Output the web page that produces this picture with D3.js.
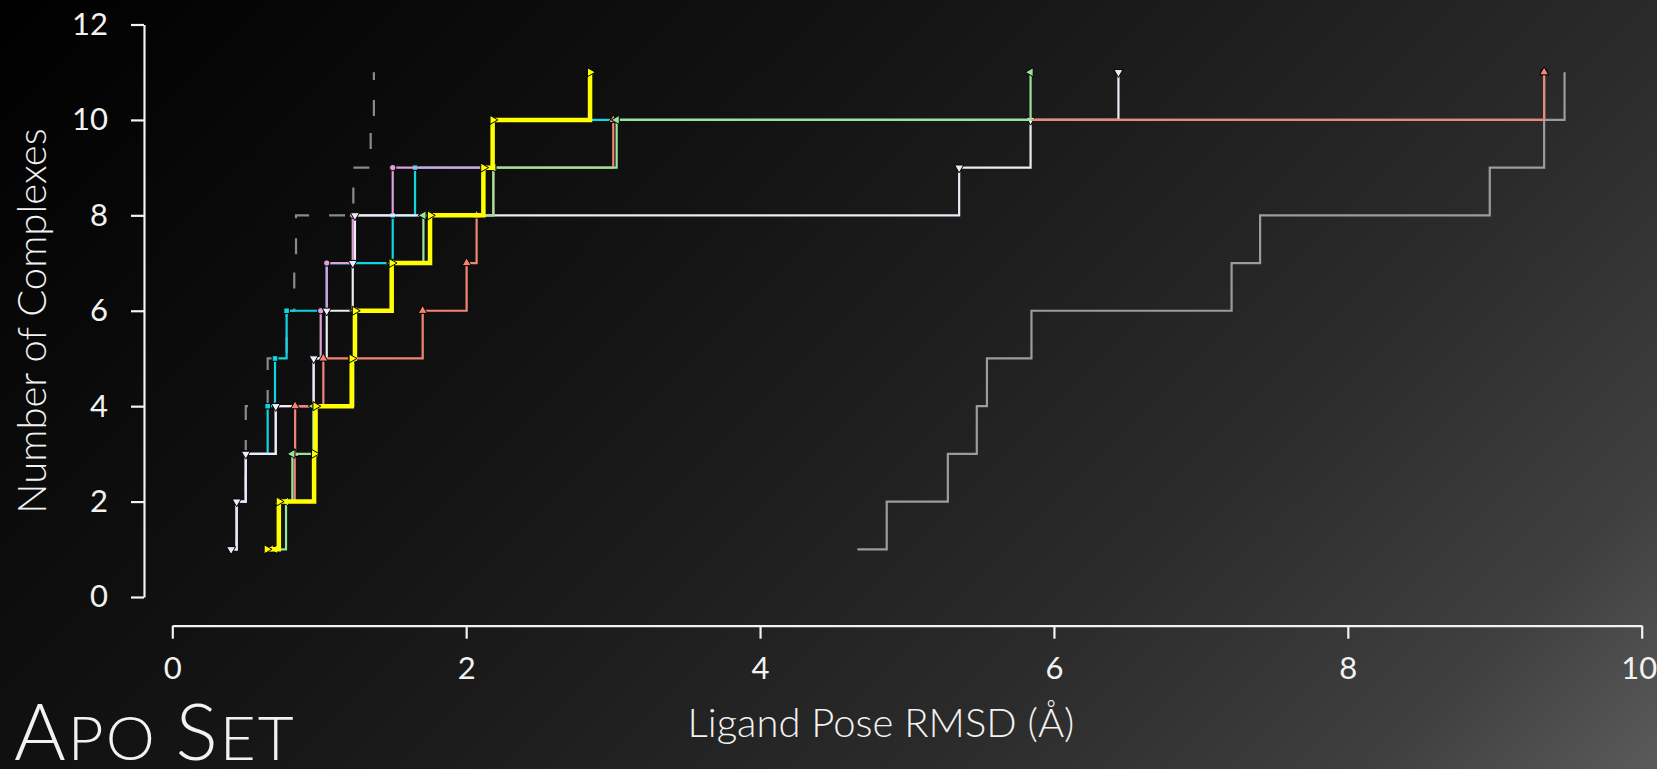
<!DOCTYPE html>
<html>
<head>
<meta charset="utf-8">
<script src="https://cdn.jsdelivr.net/npm/d3@7"></script>
<style>
  body { margin: 0; background: #000; overflow: hidden; }
  text { font-family: Lato, "Open Sans", sans-serif; fill: #f2f2f2; }
</style>
</head>
<body>
<svg></svg>
<script>
// cumulative count of complexes vs ligand pose RMSD, one array per method
var xTicks = [0, 2, 4, 6, 8, 10];
var yTicks = [0, 2, 4, 6, 8, 10, 12];
var counts = [1, 2, 3, 4, 5, 6, 7, 8, 9, 10, 11];

var dashedGrayX = [0.40, 0.438, 0.50, 0.50, 0.649, 0.778, 0.830, 0.842, 1.232, 1.350, 1.372];
var solidGrayX  = [4.662, 4.862, 5.278, 5.475, 5.544, 5.847, 7.209, 7.403, 8.966, 9.336, 9.475];
var cyanX   = [0.40, 0.438, 0.50, 0.649, 0.699, 0.778, 1.051, 1.50, 1.652, 2.18, 9.336];
var pinkX   = [0.40, 0.438, 0.50, 0.704, 0.962, 1.01, 1.051, 1.228, 1.50, 2.18];
var whiteX  = [0.40, 0.438, 0.50, 0.704, 0.962, 1.051, 1.228, 1.243, 5.355, 5.841, 6.439];
var salmonX = [0.68, 0.725, 0.833, 0.836, 1.028, 1.704, 2.003, 2.071, 2.185, 3.001, 9.336];
var greenX  = [0.70, 0.774, 0.817, 0.96, 1.232, 1.243, 1.493, 1.709, 2.185, 3.024, 5.841];
var yellowX = [0.643, 0.725, 0.965, 0.975, 1.221, 1.243, 1.493, 1.754, 2.117, 2.18, 2.843];

var width = 1657, height = 769;

var svg = d3.select("svg")
  .attr("width", width)
  .attr("height", height);

// dark diagonal background
var grad = svg.append("defs").append("linearGradient")
  .attr("id", "bg")
  .attr("gradientUnits", "userSpaceOnUse")
  .attr("x1", 0).attr("y1", 0)
  .attr("x2", 1213).attr("y2", 1213);
[[0, "#000000"], [0.35, "#121212"], [0.5, "#1c1c1c"], [0.7, "#2b2b2b"],
 [0.88, "#3f3f3f"], [1, "#5a5a5a"]].forEach(function (s) {
  grad.append("stop").attr("offset", s[0]).attr("stop-color", s[1]);
});
svg.append("rect").attr("width", width).attr("height", height).attr("fill", "url(#bg)");

var x = d3.scaleLinear().domain([0, 10]).range([172.3, 1641.7]);
var y = d3.scaleLinear().domain([0, 12]).range([597, 24.5]);

// axes
var yAxis = svg.append("g")
  .attr("transform", "translate(144,0)")
  .call(d3.axisLeft(y).tickValues(yTicks).tickSize(13).tickSizeOuter(0).tickPadding(23));
var xAxis = svg.append("g")
  .attr("transform", "translate(0,625.7)")
  .call(d3.axisBottom(x).tickValues(xTicks).tickSize(13).tickSizeOuter(0).tickPadding(18));

[yAxis, xAxis].forEach(function (g) {
  g.selectAll("path, line").attr("stroke", "#f2f2f2").attr("stroke-width", 2.2);
  g.selectAll("text").attr("fill", "#f2f2f2").style("font-size", "31px")
    .style("font-family", "Lato, 'Open Sans', sans-serif");
});
// last x label sits against the right edge
xAxis.selectAll(".tick text")
  .filter(function (d) { return d === 10; })
  .attr("text-anchor", "end")
  .attr("x", 15);

var series = [
  { xs: dashedGrayX, color: "#8a8a8a", w: 2.2, dash: "16,20", marker: null },
  { xs: solidGrayX,  color: "#9c9c9c", w: 2.2, marker: null },
  { xs: cyanX,   color: "#10d6e4", w: 2.2, marker: "square" },
  { xs: pinkX,   color: "#dda0dd", w: 2.2, marker: "circle" },
  { xs: whiteX,  color: "#ececf6", w: 2.2, marker: "down" },
  { xs: salmonX, color: "#f58474", w: 2.2, marker: "up" },
  { xs: greenX,  color: "#98e49a", w: 2.2, marker: "left" },
  { xs: yellowX, color: "#ffff00", w: 4.5, marker: "right" }
];

var line = d3.line()
  .x(function (d) { return x(d[0]); })
  .y(function (d) { return y(d[1]); })
  .curve(d3.curveStepAfter);

var tri = d3.symbol().type(d3.symbolTriangle).size(36)();
var sq = d3.symbol().type(d3.symbolSquare).size(32)();
var circ = d3.symbol().type(d3.symbolCircle).size(32)();
var rot = { up: 0, down: 180, left: -90, right: 90 };

series.forEach(function (s) {
  var pts = d3.zip(s.xs, counts.slice(0, s.xs.length));
  svg.append("path")
    .datum(pts)
    .attr("d", line)
    .attr("fill", "none")
    .attr("stroke", s.color)
    .attr("stroke-width", s.w)
    .attr("stroke-dasharray", s.dash || null)
    .attr("stroke-linejoin", "miter");
  if (!s.marker) return;
  svg.append("g").selectAll("path")
    .data(pts)
    .enter()
    .append("path")
    .attr("d", s.marker === "square" ? sq : s.marker === "circle" ? circ : tri)
    .attr("transform", function (d) {
      var r = rot[s.marker] || 0;
      return "translate(" + x(d[0]) + "," + y(d[1]) + ") rotate(" + r + ")";
    })
    .attr("fill", s.color)
    .attr("stroke", "#000")
    .attr("stroke-width", 1);
});

// titles
svg.append("text")
  .attr("transform", "translate(46,321) rotate(-90)")
  .attr("text-anchor", "middle")
  .style("font-size", "40px")
  .style("font-weight", 300)
  .text("Number of Complexes");

svg.append("text")
  .attr("x", 881).attr("y", 737)
  .attr("text-anchor", "middle")
  .style("font-size", "40px")
  .style("font-weight", 300)
  .text("Ligand Pose RMSD (Å)");

var label = svg.append("text")
  .attr("x", 14).attr("y", 760)
  .style("font-weight", 300);
label.append("tspan").style("font-size", "79px").text("A");
label.append("tspan").style("font-size", "62px").attr("dx", 2).style("letter-spacing", "2px").text("PO ");
label.append("tspan").style("font-size", "79px").text("S");
label.append("tspan").style("font-size", "62px").attr("dx", 2).style("letter-spacing", "2px").text("ET");
</script>
</body>
</html>
